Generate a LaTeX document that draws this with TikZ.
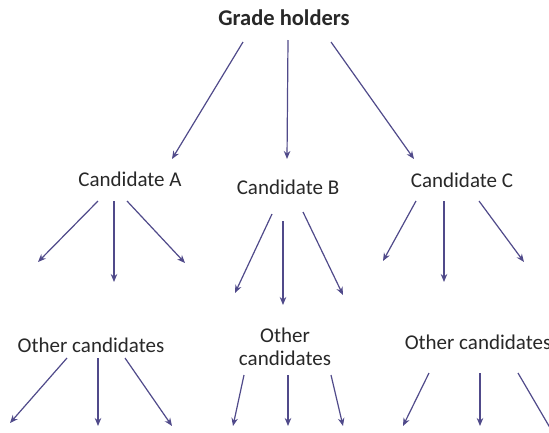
\documentclass[tikz,border=0pt]{standalone}
\usepackage{fontspec}
\setmainfont{Carlito}
\usetikzlibrary{arrows.meta}

\definecolor{arrowblue}{RGB}{80,74,138}
\definecolor{labelgray}{RGB}{40,40,40}

\tikzset{
  label/.style={inner sep=0pt, text=labelgray, font=\fontsize{21}{23}\selectfont, align=center},
  arr/.style={-{Stealth[length=8pt,width=6.5pt]}, line width=1.2pt, arrowblue},
}

\begin{document}
\begin{tikzpicture}[x=1pt, y=-1pt]
    % page
    \fill[white] (0,0) rectangle (549,432);
    \useasboundingbox (0,0) rectangle (549,432);

    % labels
    \node[label, font=\fontsize{22.5}{24}\selectfont\bfseries] (gh) at (284,18) {Grade holders};
    \node[label] (ca) at (130,179) {Candidate A};
    \node[label] (cb) at (288,187) {Candidate B};
    \node[label] (cc) at (462,180) {Candidate C};
    \node[label] (oa) at (91,345) {Other candidates};
    \node[label] (ob) at (285,347) {Other\\candidates};
    \node[label] (oc) at (478,342) {Other candidates};

    % free ends
    \coordinate (ea1) at (38,262);
    \coordinate (ea2) at (114,282);
    \coordinate (ea3) at (185,263);
    \coordinate (eb1) at (235,293);
    \coordinate (eb2) at (283,305);
    \coordinate (eb3) at (343,295);
    \coordinate (ec1) at (383,261);
    \coordinate (ec2) at (444,282);
    \coordinate (ec3) at (524,262);
    \coordinate (fa1) at (10,423);
    \coordinate (fa2) at (98,426);
    \coordinate (fa3) at (172,426);
    \coordinate (fb1) at (233,426);
    \coordinate (fb2) at (288,426);
    \coordinate (fb3) at (343,426);
    \coordinate (fc1) at (403,426);
    \coordinate (fc2) at (480,426);
    \coordinate (fc3) at (556,438);

    % grade holders to candidates
    \draw[arr] ([shift={(-41,24)}]gh.center) -- ([shift={(42,-20)}]ca.center);
    \draw[arr] ([shift={(4,22)}]gh.center) -- ([shift={(-1,-28)}]cb.center);
    \draw[arr] ([shift={(47,24)}]gh.center) -- ([shift={(-48,-21)}]cc.center);

    % candidates onwards
    \draw[arr] ([shift={(-32,22)}]ca.center) -- (ea1);
    \draw[arr] ([shift={(-16,22)}]ca.center) -- (ea2);
    \draw[arr] ([shift={(-3,22)}]ca.center) -- (ea3);
    \draw[arr] ([shift={(-16,27)}]cb.center) -- (eb1);
    \draw[arr] ([shift={(-5,34)}]cb.center) -- (eb2);
    \draw[arr] ([shift={(15,25)}]cb.center) -- (eb3);
    \draw[arr] ([shift={(-46,21)}]cc.center) -- (ec1);
    \draw[arr] ([shift={(-18,21)}]cc.center) -- (ec2);
    \draw[arr] ([shift={(17,21)}]cc.center) -- (ec3);

    % other candidates onwards
    \draw[arr] ([shift={(-24,13)}]oa.center) -- (fa1);
    \draw[arr] ([shift={(7,13)}]oa.center) -- (fa2);
    \draw[arr] ([shift={(34,13)}]oa.center) -- (fa3);
    \draw[arr] ([shift={(-41,28)}]ob.center) -- (fb1);
    \draw[arr] ([shift={(3,28)}]ob.center) -- (fb2);
    \draw[arr] ([shift={(46,28)}]ob.center) -- (fb3);
    \draw[arr] ([shift={(-49,31)}]oc.center) -- (fc1);
    \draw[arr] ([shift={(2,31)}]oc.center) -- (fc2);
    \draw[arr] ([shift={(40,31)}]oc.center) -- (fc3);
\end{tikzpicture}
\end{document}
